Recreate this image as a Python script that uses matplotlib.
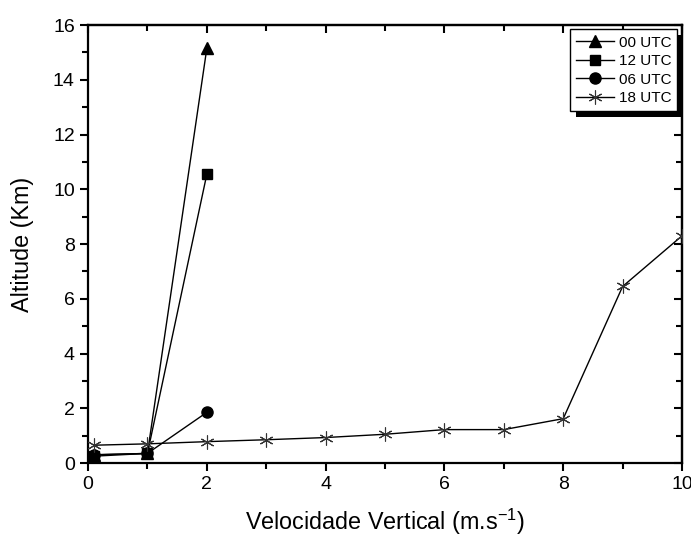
import matplotlib
matplotlib.use("Agg")
import matplotlib.pyplot as plt
from matplotlib.patches import Rectangle
from matplotlib.transforms import IdentityTransform
from matplotlib.ticker import MultipleLocator

plt.rcParams['font.family'] = ['Liberation Sans', 'DejaVu Sans']
plt.rcParams['mathtext.fontset'] = 'custom'
plt.rcParams['mathtext.rm'] = 'Liberation Sans'
plt.rcParams['mathtext.default'] = 'regular'

x_00 = [0.1, 1, 2]
y_00 = [0.30, 0.35, 15.15]
x_12 = [0.1, 1, 2]
y_12 = [0.25, 0.35, 10.55]
x_06 = [0.1, 1, 2]
y_06 = [0.30, 0.35, 1.85]
x_18 = [0.1, 1, 2, 3, 4, 5, 6, 7, 8, 9, 10]
y_18 = [0.65, 0.70, 0.78, 0.85, 0.93, 1.05, 1.22, 1.22, 1.62, 6.45, 8.30]

fig = plt.figure(figsize=(6.91, 5.39), dpi=100)
ax = fig.add_axes([0.1274, 0.141, 0.8596, 0.8125])

lw = 1.0
ax.plot(x_00, y_00, color='black', lw=lw, marker='^', ms=9, label='00 UTC', zorder=3)
ax.plot(x_12, y_12, color='black', lw=lw, marker='s', ms=6.5, label='12 UTC', zorder=3)
ax.plot(x_06, y_06, color='black', lw=lw, marker='o', ms=8, label='06 UTC', zorder=3)
ax.plot(x_18, y_18, color='black', lw=lw, marker=(6, 2, 0), ms=10, mew=0.8,
        markeredgecolor='#333333', label='18 UTC', zorder=3)

ax.set_xlim(0, 10)
ax.set_ylim(0, 16)
ax.xaxis.set_major_locator(MultipleLocator(2))
ax.xaxis.set_minor_locator(MultipleLocator(1))
ax.yaxis.set_major_locator(MultipleLocator(2))
ax.yaxis.set_minor_locator(MultipleLocator(1))

for s in ax.spines.values():
    s.set_linewidth(1.6)

ax.tick_params(which='both', direction='out', width=1.5, labelsize=14,
               top=False, right=False)
ax.tick_params(which='major', length=6)
ax.tick_params(which='minor', length=4)

# inward ticks on top/right
axt = ax.secondary_xaxis('top')
axt.xaxis.set_major_locator(MultipleLocator(2))
axt.xaxis.set_minor_locator(MultipleLocator(1))
axt.tick_params(which='both', direction='in', width=1.5, labeltop=False)
axt.tick_params(which='major', length=6)
axt.tick_params(which='minor', length=4)
axt.spines['top'].set_linewidth(1.6)
axr = ax.secondary_yaxis('right')
axr.yaxis.set_major_locator(MultipleLocator(2))
axr.yaxis.set_minor_locator(MultipleLocator(1))
axr.tick_params(which='both', direction='in', width=1.5, labelright=False)
axr.tick_params(which='major', length=6)
axr.tick_params(which='minor', length=4)
axr.spines['right'].set_linewidth(1.6)

ax.set_xlabel('Velocidade Vertical (m.s$^{-1}$)', fontsize=16.8, labelpad=10)
ax.set_ylabel('Altitude (Km)', fontsize=16.8, labelpad=14)

leg = ax.legend(loc='upper right', bbox_to_anchor=(0.992, 0.99), fontsize=11,
                frameon=True, fancybox=False, edgecolor='black', framealpha=1,
                handlelength=2.5, handletextpad=0.3, labelspacing=0.3,
                borderpad=0.4, borderaxespad=0.0)
leg.get_frame().set_linewidth(1.0)
leg.set_zorder(6)

fig.canvas.draw()
bb = leg.get_window_extent()
off = 6
shadow = Rectangle((bb.x0 + off, bb.y0 - off), bb.width, bb.height,
                   transform=IdentityTransform(), facecolor='black',
                   edgecolor='none', zorder=5.5, clip_on=False)
ax.add_patch(shadow)

fig.savefig('out.png', dpi=100)
